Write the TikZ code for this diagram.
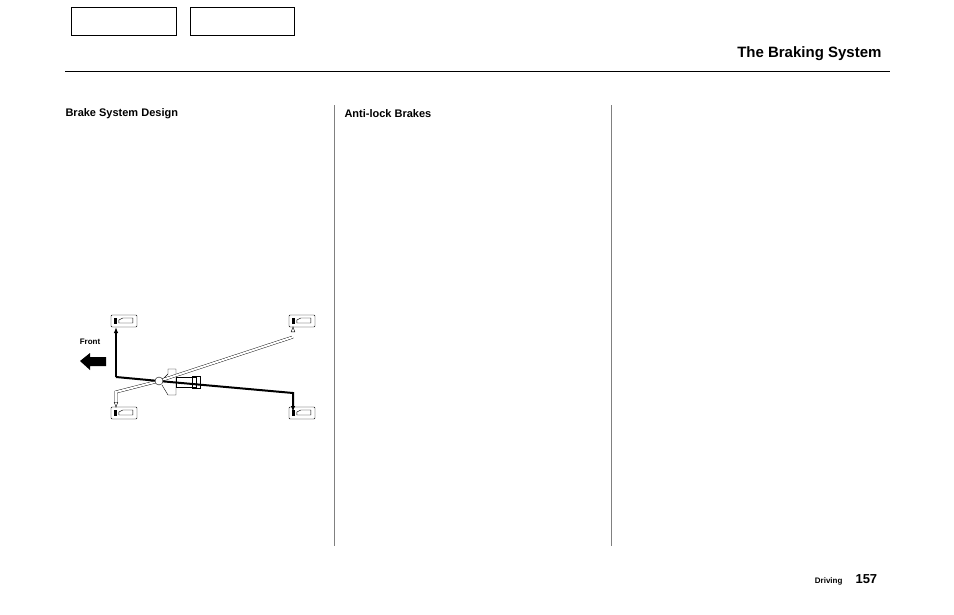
\documentclass[tikz,border=0pt]{standalone}
\usepackage{fontspec}
\setmainfont{Liberation Sans}
\usetikzlibrary{arrows.meta}
\begin{document}
\begin{tikzpicture}[x=1pt,y=-1pt,
  wheel/.style={draw,rounded corners=1pt,minimum width=26pt,minimum height=12pt,inner sep=0pt},
  hdr/.style={font=\bfseries\fontsize{11}{13}\selectfont,anchor=west}]
\useasboundingbox (0,0) rectangle (954,614);
\node[draw,minimum width=105pt,minimum height=28pt,anchor=north west] (b1) at (71,7) {};
\node[draw,minimum width=104pt,minimum height=28pt,anchor=north west] (b2) at (190,7) {};
\draw (65,71) -- (890,71);
\node[anchor=east,font=\bfseries\fontsize{15}{17}\selectfont] (t) at (885,54) {The Braking System};
\node[hdr] (h1) at (62,114) {Brake System Design};
\node[hdr] (h2) at (341,114) {Anti-lock Brakes};
\draw[gray] (334,105) -- (334,546);
\draw[gray] (611,105) -- (611,546);
\node[anchor=east,font=\bfseries\fontsize{8}{10}\selectfont] (d) at (846,581) {Driving};
\node[anchor=west,font=\bfseries\fontsize{13}{15}\selectfont] (p) at (852,579) {157};
% diagram
\node[wheel] (fl) at (124,321) {};
\node[wheel] (rl) at (302,321) {};
\node[wheel] (fr) at (124,413) {};
\node[wheel] (rr) at (302,413) {};
\foreach \w in {fl,rl,fr,rr}{\fill ([xshift=3pt]\w.west) ++(0,-3) rectangle ++(3,6);
 \draw ([xshift=8pt]\w.west) ++(0,2) -- ++(0,-3) -- ++(4,-2) -- ++(10,0) -- ++(0,5) -- cycle;}
\node[font=\bfseries\fontsize{8}{10}\selectfont] (fronttxt) at (90,342) {Front};
\fill (80,361) -- (90,353) -- (90,357) -- (106,357) -- (106,366) -- (90,366) -- (90,370) -- cycle;
% booster
\draw (162,380) -- (168,374) -- (168,369) -- (176,369) -- (176,395) -- (168,395) -- (162,385);
\draw (176,377) rectangle (196,387);
\draw (192,376) rectangle (200,388);
% white line
\coordinate (w1) at (293,337);
\coordinate (w2) at (116,392);
\draw[double=white,double distance=2pt,-{Latex[open,length=6pt]}] (w1) -- (159,381) -- (w2) -- (116,408);
\draw[double=white,double distance=2pt,-{Latex[open,length=6pt]}] (w1) -- (293,326);
% black line
\coordinate (k1) at (116,377);
\coordinate (k2) at (293,393);
\draw[line width=2pt,-{Latex[length=6pt]}] (k1) -- (116,327);
\draw[line width=2pt,-{Latex[length=6pt]}] (k1) -- (159,381) -- (k2) -- (293,412);
\node[circle,draw,fill=white,inner sep=0pt,minimum size=8pt] (mc) at (159,381) {};
\end{tikzpicture}
\end{document}
